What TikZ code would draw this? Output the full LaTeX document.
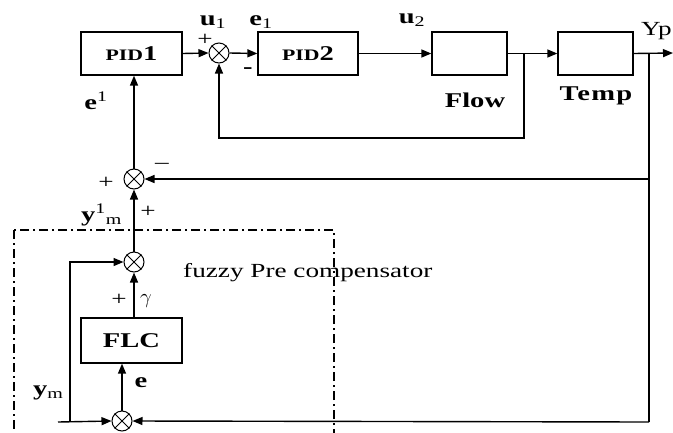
\documentclass[tikz,border=0pt]{standalone}
\usepackage{fontspec}
\setmainfont{Liberation Serif}[FakeStretch=1.36]
\usetikzlibrary{arrows.meta}
\begin{document}
\begin{tikzpicture}[x=1pt,y=-1pt,
  blk/.style={draw, line width=1.3pt, minimum height=43pt, inner sep=0pt},
  sumc/.style={draw, circle, line width=1pt, minimum size=20pt, inner sep=0pt},
  wire/.style={line width=1.4pt},
  arr/.style={wire, -{Triangle[length=10pt,width=8pt]}},
  lbl/.style={inner sep=0pt, font=\fontsize{20}{22}\selectfont},
  bt/.style={font=\fontsize{21}{22}\selectfont\bfseries},
  dashdot/.style={line width=1.3pt, dash pattern=on 9pt off 4pt on 2pt off 4pt}
]
\useasboundingbox (0,0) rectangle (673,432);
\clip (0,0) rectangle (673,432);

% blocks
\node[blk, minimum width=101pt] (pid1) at (131.5,53.5)
  {\bfseries\fontsize{16}{16}\selectfont PID\fontsize{21}{21}\selectfont 1};
\node[sumc] (s1) at (219,53) {};
\node[blk, minimum width=100pt] (pid2) at (308,53.5)
  {\bfseries\fontsize{16}{16}\selectfont PID\fontsize{21}{21}\selectfont 2};
\node[blk, minimum width=75pt] (flow) at (469.5,53.5) {};
\node[blk, minimum width=75pt] (temp) at (595.5,53.5) {};
\node[sumc] (s2) at (134,179) {};
\node[sumc] (s3) at (134,262) {};
\node[blk, minimum width=101pt, minimum height=45pt] (flc) at (131.5,340.5)
  {\bfseries\fontsize{21}{21}\selectfont FLC};
\node[sumc] (s4) at (122,421) {};

\foreach \s in {s1,s2,s3,s4}{
  \draw[line width=0.8pt] (\s.north west) -- (\s.south east);
  \draw[line width=0.8pt] (\s.north east) -- (\s.south west);
}

% coordinates
\coordinate (out) at (673,53);
\coordinate (b1) at (524,53);
\coordinate (b1d) at (524,138);
\coordinate (b2) at (649,53);
\coordinate (b2m) at (649,179);
\coordinate (b2d) at (649,422);
\coordinate (ymin) at (58,422);
\coordinate (ymb) at (70,422);
\coordinate (ymt) at (70,262);

% forward path
\draw[arr] (pid1.east) -- (s1.west);
\draw[arr] (s1.east) -- (pid2.west);
\draw[arr] (pid2.east) -- (flow.west);
\draw[arr] (flow.east) -- (temp.west);
\draw[arr] (temp.east) -- (out);

% inner feedback
\draw[arr] (b1) -- (b1d) -| (s1.south);

% outer feedback
\draw[wire] (b2) -- (b2d);
\draw[arr] (b2m) -- (s2.east);
\draw[arr] (b2d) -- (s4.east);

% vertical chain
\draw[arr] (s2.north) -- (s2.north |- pid1.south);
\draw[arr] (s3.north) -- (s2.south);
\draw[arr] (s3.south |- flc.north) -- (s3.south);
\draw[arr] (s4.north) -- (s4.north |- flc.south);

% ym input
\draw[arr] (ymin) -- (s4.west);
\draw[arr] (ymb) -- (ymt) -- (s3.west);

% pre-compensator box
\draw[dashdot] (14,230) rectangle (334,440);

% labels
\node[lbl, bt] (lu1) at (213,22) {u\textsubscript{\mdseries 1}};
\node[lbl] (lp1) at (205,40) {+};
\node[lbl, bt] (le1) at (261,22) {e\textsubscript{\mdseries 1}};
\node[lbl, bt] (lm1) at (248,71) {-};
\node[lbl, bt] (lu2) at (412,20) {u\textsubscript{\mdseries 2}};
\node[lbl, bt] (lflow) at (475,100) {Flow};
\node[lbl, bt] (ltemp) at (596,96) {\addfontfeatures{LetterSpace=6}Temp};
\node[lbl, anchor=east] (lyp) at (672,31) {Yp};
\node[lbl, bt] (le) at (96,101) {e\textsuperscript{\mdseries 1}};
\node[lbl] (lp2) at (106,183) {+};
\node[lbl] (lm2) at (162,166) {\textendash};
\node[lbl] (lp3) at (148,212) {+};
\node[lbl, bt, anchor=west] (lym1) at (81,215) {y\textsuperscript{\mdseries 1}\textsubscript{\mdseries m}};
\node[lbl, anchor=base west] (lfz) at (183,277) {fuzzy Pre compensator};
\node[lbl] (lp4) at (119,300) {+};
\node[lbl] (lg) at (146,301) {$\gamma$};
\node[lbl, bt] (lee) at (141,383) {e};
\node[lbl, bt, anchor=west] (lym) at (33,393) {y\textsubscript{\mdseries m}};
\end{tikzpicture}
\end{document}
